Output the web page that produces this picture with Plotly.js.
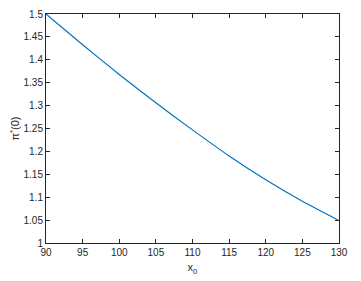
<!DOCTYPE html>
<html>
<head>
<meta charset="utf-8">
<script src="https://cdn.plot.ly/plotly-3.0.1.min.js"></script>
<style>
  html, body { margin: 0; padding: 0; background: #fff; }
  #chart { width: 361px; height: 281px; }
</style>
</head>
<body>
<div id="chart"></div>
<script>
// x0 values and the optimal pi*(0)
const x0 = [90, 95, 100, 105, 110, 115, 120, 125, 130];
const piStar = [1.5, 1.433, 1.368, 1.306, 1.247, 1.190, 1.138, 1.091, 1.049];

const xTicks = [90, 95, 100, 105, 110, 115, 120, 125, 130];
const yTicks = [1, 1.05, 1.1, 1.15, 1.2, 1.25, 1.3, 1.35, 1.4, 1.45, 1.5];

const axisStyle = {
  showline: true,
  linecolor: '#262626',
  linewidth: 1,
  mirror: 'ticks',
  ticks: 'inside',
  ticklen: 4,
  tickcolor: '#262626',
  showgrid: false,
  zeroline: false,
  tickfont: { family: 'Liberation Sans, Arial, sans-serif', size: 10, color: '#262626' }
};

const trace = {
  x: x0,
  y: piStar,
  type: 'scatter',
  mode: 'lines',
  line: { color: '#0072BD', width: 1.2, shape: 'spline', smoothing: 0.6 },
  hoverinfo: 'none'
};

const layout = {
  width: 361,
  height: 281,
  margin: { l: 46, r: 22, t: 14, b: 38 },
  paper_bgcolor: '#fff',
  plot_bgcolor: '#fff',
  showlegend: false,
  xaxis: Object.assign({}, axisStyle, {
    range: [90, 130],
    tickvals: xTicks,
    ticktext: xTicks.map(String),
    title: { text: 'x<sub>0</sub>', standoff: 6,
             font: { family: 'Liberation Sans, Arial, sans-serif', size: 11, color: '#262626' } }
  }),
  yaxis: Object.assign({}, axisStyle, {
    range: [1, 1.5],
    tickvals: yTicks,
    ticktext: yTicks.map(String),
    title: { text: 'π<sup>*</sup>(0)', standoff: 1,
             font: { family: 'Liberation Sans, Arial, sans-serif', size: 11, color: '#262626' } }
  })
};

Plotly.newPlot('chart', [trace], layout, { staticPlot: true, displayModeBar: false });
</script>
</body>
</html>
